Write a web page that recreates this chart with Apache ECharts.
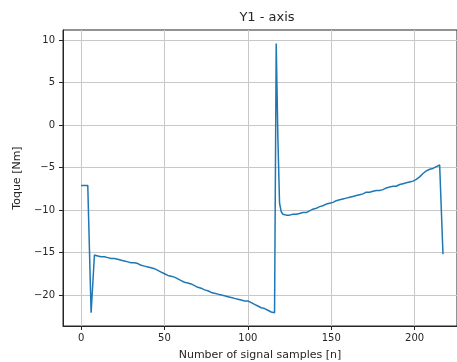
<!DOCTYPE html>
<html>
<head>
<meta charset="utf-8">
<script src="https://cdn.jsdelivr.net/npm/echarts@6/dist/echarts.min.js"></script>
<style>
  html, body { margin: 0; padding: 0; background: #fff; }
  #chart { width: 457px; height: 362px; }
</style>
</head>
<body>
<div id="chart"></div>
<script>
// Torque measured on the Y1 axis, one value per signal sample (n = 0, 1, 2, ...)
const torque = [
  -7.1, -7.1, -7.1, -7.1, -7.1, -7.1, -22.1, -18.7, -15.3, -15.3,
  -15.4, -15.4, -15.5, -15.6, -15.5, -15.6, -15.6, -15.7, -15.7, -15.7,
  -15.7, -15.8, -15.8, -15.9, -15.9, -16.0, -16.0, -16.1, -16.1, -16.2,
  -16.2, -16.2, -16.2, -16.3, -16.3, -16.4, -16.5, -16.6, -16.6, -16.7,
  -16.7, -16.7, -16.8, -16.8, -16.9, -17.0, -17.1, -17.2, -17.3, -17.4,
  -17.5, -17.6, -17.7, -17.7, -17.8, -17.8, -17.9, -18.0, -18.1, -18.2,
  -18.3, -18.4, -18.5, -18.5, -18.6, -18.7, -18.7, -18.8, -18.9, -19.0,
  -19.1, -19.2, -19.2, -19.3, -19.4, -19.5, -19.5, -19.6, -19.7, -19.7,
  -19.8, -19.9, -19.9, -20.0, -20.0, -20.1, -20.1, -20.2, -20.2, -20.3,
  -20.3, -20.4, -20.4, -20.4, -20.5, -20.5, -20.6, -20.6, -20.7, -20.7,
  -20.7, -20.8, -20.9, -21.0, -21.1, -21.2, -21.3, -21.4, -21.5, -21.7,
  -21.6, -21.7, -21.8, -21.9, -22.0, -22.1, -22.1, 9.6, -1.5, -9.2,
  -10.2, -10.5, -10.6, -10.6, -10.5, -10.6, -10.5, -10.5, -10.4, -10.5,
  -10.4, -10.4, -10.4, -10.3, -10.4, -10.3, -10.2, -10.1, -10.0, -9.9,
  -9.8, -9.8, -9.7, -9.6, -9.5, -9.5, -9.4, -9.3, -9.3, -9.2,
  -9.1, -9.1, -9.0, -8.9, -8.9, -8.8, -8.7, -8.7, -8.6, -8.6,
  -8.5, -8.5, -8.4, -8.4, -8.4, -8.3, -8.3, -8.2, -8.1, -8.1,
  -8.0, -7.9, -7.9, -7.9, -7.8, -7.8, -7.8, -7.7, -7.7, -7.7,
  -7.6, -7.6, -7.5, -7.4, -7.4, -7.3, -7.3, -7.2, -7.3, -7.2,
  -7.1, -7.0, -7.0, -6.9, -6.9, -6.8, -6.8, -6.7, -6.7, -6.6,
  -6.5, -6.4, -6.3, -6.1, -5.9, -5.7, -5.6, -5.4, -5.3, -5.2,
  -5.2, -5.1, -5.0, -4.9, -4.8, -4.7, -4.7, -15.2
];

// Tick positions on both axes
const xTicks = [0, 50, 100, 150, 200];
const yTicks = [10, 5, 0, -5, -10, -15, -20];

const titleText = 'Y1 - axis';
const xName = 'Number of signal samples [n]';
const yName = 'Toque [Nm]';

const points = torque.map((v, n) => [n, v]);

const FONT = 'DejaVu Sans';
const TEXT = '#262626';
const fmtMinus = v => String(v).replace('-', '\u2212');

const chart = echarts.init(document.getElementById('chart'), null, { renderer: 'canvas' });

chart.setOption({
  animation: false,
  backgroundColor: '#ffffff',
  title: {
    text: titleText,
    left: 262,
    top: 6,
    textAlign: 'center',
    textStyle: { fontFamily: FONT, fontSize: 13, fontWeight: 'normal', color: TEXT }
  },
  grid: {
    left: 63, right: 0, top: 30, bottom: 36,
    outerBoundsMode: 'none',
    containLabel: false,
    show: true, borderColor: TEXT, borderWidth: 1, backgroundColor: 'transparent'
  },
  xAxis: {
    type: 'value',
    min: -10.85,
    max: 225.4,
    name: xName,
    nameLocation: 'middle',
    nameGap: 24,
    nameTextStyle: { fontFamily: FONT, fontSize: 11, color: TEXT },
    axisLine: { show: true, onZero: false, lineStyle: { color: TEXT, width: 1 } },
    axisTick: { show: true, length: 4, customValues: xTicks, lineStyle: { color: TEXT, width: 1 } },
    axisLabel: {
      customValues: xTicks, margin: 7,
      fontFamily: FONT, fontSize: 10, color: TEXT, formatter: fmtMinus
    },
    splitLine: { show: true, lineStyle: { color: '#c8c8c8', width: 1 } }
  },
  yAxis: {
    type: 'value',
    min: -23.65,
    max: 11.19,
    name: yName,
    nameLocation: 'middle',
    nameRotate: 90,
    nameGap: 31,
    nameTextStyle: { fontFamily: FONT, fontSize: 11, color: TEXT },
    axisLine: { show: true, onZero: false, lineStyle: { color: TEXT, width: 1 } },
    axisTick: { show: true, length: 4, customValues: yTicks, lineStyle: { color: TEXT, width: 1 } },
    axisLabel: {
      customValues: yTicks, margin: 8,
      fontFamily: FONT, fontSize: 10, color: TEXT, formatter: fmtMinus
    },
    splitLine: { show: true, lineStyle: { color: '#c8c8c8', width: 1 } }
  },
  series: [{
    type: 'line',
    data: points,
    showSymbol: false,
    symbol: 'none',
    lineStyle: { color: '#1f77b4', width: 1.5 },
    itemStyle: { color: '#1f77b4' },
    clip: true
  }]
});
</script>
</body>
</html>
